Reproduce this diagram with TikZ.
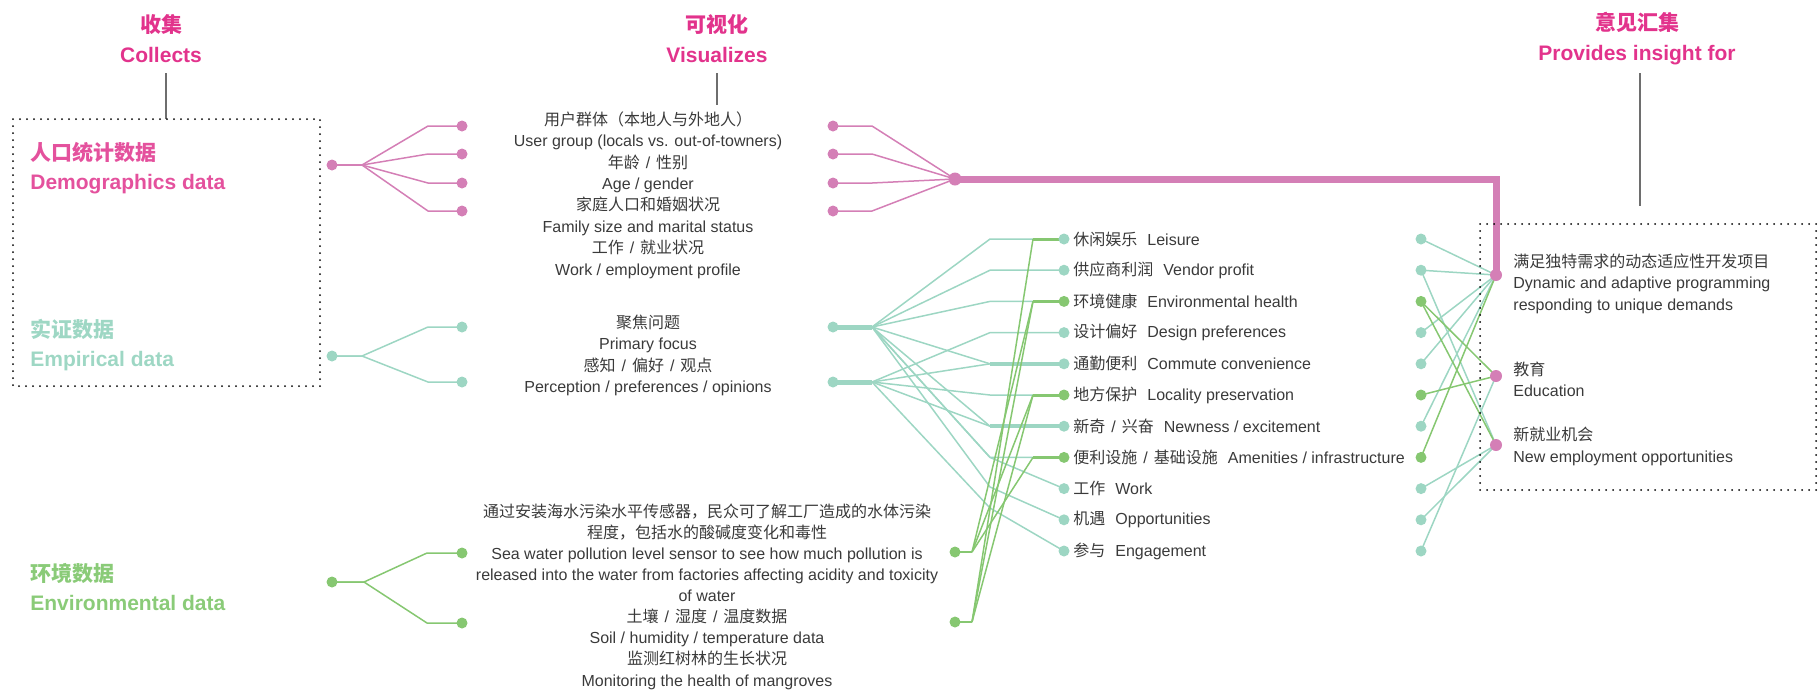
\documentclass[tikz,border=0pt]{standalone}
\usepackage{fontspec}
\setmainfont{Liberation Sans}
\newfontfamily\cjk{Noto Sans CJK SC}
\usetikzlibrary{backgrounds}
\definecolor{ttlpink}{HTML}{E2338C}
\definecolor{labpink}{HTML}{E4519D}
\definecolor{pinkln}{HTML}{D47FB6}
\definecolor{tealc}{HTML}{9DD6C3}
\definecolor{greenc}{HTML}{86C771}
\definecolor{labteal}{HTML}{9ED7C4}
\definecolor{labgreen}{HTML}{8ACB78}
\definecolor{txtc}{HTML}{3A3A3A}
\definecolor{greyc}{HTML}{6E6E6E}
\newcommand{\csl}{\hspace{3pt}/\hspace{3pt}}
\tikzset{
 dotP/.style={circle,fill=pinkln,inner sep=0pt,minimum size=5.5pt},
 dotT/.style={circle,fill=tealc,inner sep=0pt,minimum size=5.5pt},
 dotG/.style={circle,fill=greenc,inner sep=0pt,minimum size=5.5pt},
 hubP/.style={dotP,minimum size=6.5pt},
 lnP/.style={draw=pinkln,line width=0.75pt},
 lnT/.style={draw=tealc,line width=0.75pt},
 lnG/.style={draw=greenc,line width=0.75pt},
 body/.style={text=txtc,font=\fontsize{8}{10.7}\selectfont,inner sep=0pt},
 envbody/.style={text=txtc,font=\fontsize{8}{10.55}\selectfont,inner sep=0pt,align=center},
 ttl/.style={text=ttlpink,font=\fontsize{10.5}{15}\selectfont\bfseries,align=center,inner sep=0pt},
 grp/.style={font=\fontsize{10.5}{14.5}\selectfont\bfseries,align=left,inner sep=0pt,anchor=west},
 frame/.style={draw=black,line width=1pt,dash pattern=on 0pt off 3.5pt,line cap=round},
 greyln/.style={draw=greyc,line width=0.8pt},
}
\begin{document}
\begin{tikzpicture}[x=0.5pt,y=-0.5pt]
\useasboundingbox (0,0) rectangle (1819,693);

% ---------- titles ----------
\node[ttl] (tCol) at (161,39) {{\cjk 收集}\\Collects};
\node[ttl] (tVis) at (717,39) {{\cjk 可视化}\\Visualizes};
\node[ttl] (tIns) at (1637,39) {{\cjk 意见汇集}\\Provides insight for};
\coordinate (cA1) at (166,73); \coordinate (cA2) at (166,119);
\coordinate (cB1) at (717,73); \coordinate (cB2) at (717,105);
\coordinate (cC1) at (1640,73); \coordinate (cC2) at (1640,206);
\draw[greyln] (cA1) -- (cA2);
\draw[greyln] (cB1) -- (cB2);
\draw[greyln] (cC1) -- (cC2);

% ---------- frames ----------
\draw[frame] (13,119) rectangle (320,386);
\draw[frame] (1480,224) rectangle (1816,490);

% ---------- group labels ----------
\node[grp,text=labpink] (gD) at (30,168.5) {{\cjk 人口统计数据}\\Demographics data};
\node[grp,text=labteal] (gE) at (30,345) {{\cjk 实证数据}\\Empirical data};
\node[grp,text=labgreen] (gV) at (30,587.5) {{\cjk 环境数据}\\Environmental data};

% ---------- left trees ----------
\node[dotP] (D0) at (332,165) {};
\coordinate (Db) at (362,165);
\foreach \k/\y in {1/126,2/154,3/183,4/211}{
  \coordinate (Dk\k) at (428,\y);
  \node[dotP] (Dd\k) at (462,\y) {};
  \node[dotP] (Rd\k) at (833,\y) {};
  \coordinate (Rk\k) at (872,\y);
}
\node[dotT] (E0) at (332,356) {};
\coordinate (Eb) at (362,356);
\foreach \k/\y in {1/327,2/382}{
  \coordinate (Ek\k) at (428,\y);
  \node[dotT] (Ed\k) at (462,\y) {};
  \node[dotT] (Rf\k) at (833,\y) {};
  \coordinate (J\k) at (872,\y);
}
\node[dotG] (V0) at (332,582) {};
\coordinate (Vb) at (364,582);
\foreach \k/\y in {1/553,2/623}{
  \coordinate (Vk\k) at (427,\y);
  \node[dotG] (Vd\k) at (462,\y) {};
}
\node[dotG] (W1) at (955,552) {};
\node[dotG] (W2) at (955,622) {};
\coordinate (W1b) at (972,552);
\coordinate (W2b) at (972,622);
\node[hubP] (H) at (955,179) {};
\coordinate (pc) at (1496,179);

% ---------- middle texts ----------
\node[body,align=center] (tD) at (648,195) {{\cjk 用户群体（本地人与外地人）}\\User group (locals vs. out-of-towners)\\{\cjk 年龄}\csl{\cjk 性别}\\Age / gender\\{\cjk 家庭人口和婚姻状况}\\Family size and marital status\\{\cjk 工作}\csl{\cjk 就业状况}\\Work / employment profile};
\node[body,align=center] (tE) at (648,355.5) {{\cjk 聚焦问题}\\Primary focus\\{\cjk 感知}\csl{\cjk 偏好}\csl{\cjk 观点}\\Perception / preferences / opinions};
\node[envbody] (tV) at (707,596.5) {{\cjk 通过安装海水污染水平传感器，民众可了解工厂造成的水体污染}\\{\cjk 程度，包括水的酸碱度变化和毒性}\\Sea water pollution level sensor to see how much pollution is\\released into the water from factories affecting acidity and toxicity\\of water\\{\cjk 土壤}\csl{\cjk 湿度}\csl{\cjk 温度数据}\\Soil / humidity / temperature data\\{\cjk 监测红树林的生长状况}\\Monitoring the health of mangroves};

% ---------- middle list ----------
\foreach \i/\c in {0/T,1/T,2/G,3/T,4/T,5/G,6/T,7/G,8/T,9/T,10/T}{
  \node[dot\c] (m\i) at (1064,{239+31.2*\i}) {};
  \node[dot\c] (r\i) at (1421,{239+31.2*\i}) {};
  \coordinate (tb\i) at (990,{239+31.2*\i});
  \coordinate (gb\i) at (1033,{239+31.2*\i});
}
\coordinate (tw) at (990,457.4);
\coordinate (to) at (990,487);
\coordinate (te) at (990,508);
\node[body,anchor=west] (l0) at (1073,239) {{\cjk 休闲娱乐}\hspace{5pt}Leisure};
\node[body,anchor=west] (l1) at (1073,270.2) {{\cjk 供应商利润}\hspace{5pt}Vendor profit};
\node[body,anchor=west] (l2) at (1073,301.4) {{\cjk 环境健康}\hspace{5pt}Environmental health};
\node[body,anchor=west] (l3) at (1073,332.6) {{\cjk 设计偏好}\hspace{5pt}Design preferences};
\node[body,anchor=west] (l4) at (1073,363.8) {{\cjk 通勤便利}\hspace{5pt}Commute convenience};
\node[body,anchor=west] (l5) at (1073,395) {{\cjk 地方保护}\hspace{5pt}Locality preservation};
\node[body,anchor=west] (l6) at (1073,426.2) {{\cjk 新奇}\csl{\cjk 兴奋}\hspace{5pt}Newness / excitement};
\node[body,anchor=west] (l7) at (1073,457.4) {{\cjk 便利设施}\csl{\cjk 基础设施}\hspace{5pt}Amenities / infrastructure};
\node[body,anchor=west] (l8) at (1073,488.6) {{\cjk 工作}\hspace{5pt}Work};
\node[body,anchor=west] (l9) at (1073,519.8) {{\cjk 机遇}\hspace{5pt}Opportunities};
\node[body,anchor=west] (l10) at (1073,551) {{\cjk 参与}\hspace{5pt}Engagement};

% ---------- outcomes ----------
\node[dotP,minimum size=6pt] (p1) at (1496,275) {};
\node[dotP,minimum size=6pt] (p2) at (1496,376) {};
\node[dotP,minimum size=6pt] (p3) at (1496,445) {};
\node[body,anchor=west,align=left] (pt1) at (1513,283.5) {{\cjk 满足独特需求的动态适应性开发项目}\\Dynamic and adaptive programming\\responding to unique demands};
\node[body,anchor=west,align=left] (pt2) at (1513,379) {{\cjk 教育}\\Education};
\node[body,anchor=west,align=left] (pt3) at (1513,446.5) {{\cjk 新就业机会}\\New employment opportunities};

% ---------- connectors ----------
\begin{scope}[on background layer]
\foreach \k in {1,2,3,4} \draw[lnP] (D0.center) -- (Db) -- (Dk\k) -- (Dd\k.center);
\foreach \k in {1,2,3,4} \draw[lnP] (Rd\k.center) -- (Rk\k) -- (H.center);
\foreach \k in {1,2} \draw[lnT] (E0.center) -- (Eb) -- (Ek\k) -- (Ed\k.center);
\foreach \k in {1,2} \draw[lnT,line width=2.5pt] (Rf\k.center) -- (J\k);
\foreach \k in {1,2} \draw[lnG] (V0.center) -- (Vb) -- (Vk\k) -- (Vd\k.center);
% empirical -> list
\foreach \i in {0,1,2,4,6,7} \draw[lnT] (J1) -- (tb\i) -- (m\i.center);
\foreach \i in {3,4,5,6} \draw[lnT] (J2) -- (tb\i) -- (m\i.center);
\draw[lnT] (J1) -- (tw) -- (m8.center);
\draw[lnT] (J1) -- (to) -- (m9.center);
\draw[lnT] (J2) -- (te) -- (m10.center);
\draw[lnT,line width=2pt] (tb4) -- (m4.center);
\draw[lnT,line width=2pt] (tb6) -- (m6.center);
% environmental -> list
\draw[lnG,line width=1.1pt] (W1.center) -- (W1b);
\draw[lnG,line width=1.1pt] (W2.center) -- (W2b);
\foreach \i in {2,5,7} \draw[lnG] (W1b) -- (gb\i);
\foreach \i in {0,2,5} \draw[lnG] (W2b) -- (gb\i);
\foreach \i in {0,2,5,7} \draw[lnG,line width=1.5pt] (gb\i) -- (m\i.center);
% right column -> outcomes
\foreach \i in {0,1,3,4,6} \draw[lnT] (r\i.center) -- (p1.center);
\foreach \i in {1,8,9} \draw[lnT] (r\i.center) -- (p3.center);
\draw[lnT] (r10.center) -- (p2.center);
\draw[lnG] (r2.center) -- (p2.center);
\draw[lnG] (r2.center) -- (p3.center);
\draw[lnG] (r5.center) -- (p2.center);
\draw[lnG] (r7.center) -- (p1.center);
% main pink path
\draw[draw=pinkln,line width=3.5pt,line join=miter] (H.center) -- (pc) -- (p1.center);
\end{scope}
\end{tikzpicture}
\end{document}
